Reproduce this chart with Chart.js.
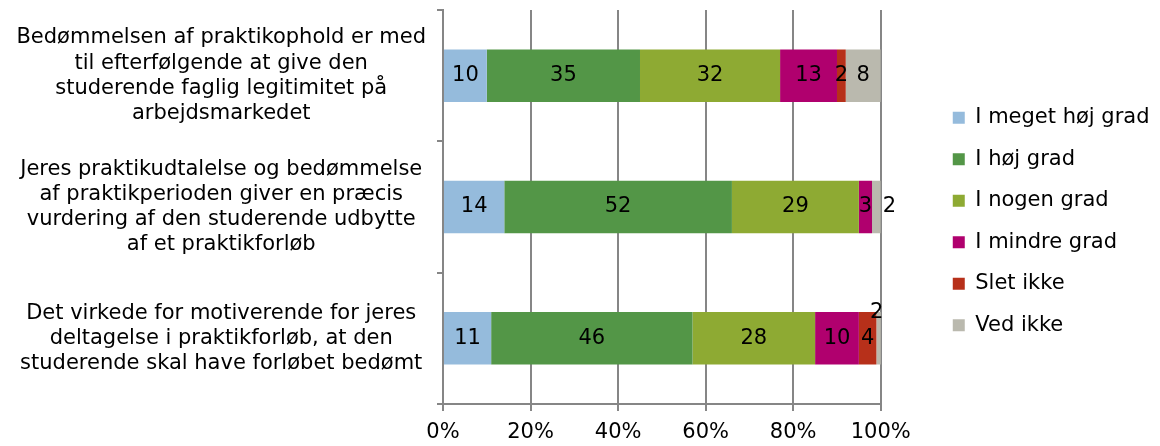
<!DOCTYPE html>
<html>
<head>
<meta charset="utf-8">
<script src="https://cdn.jsdelivr.net/npm/chart.js@4"></script>
<style>
  html, body { margin: 0; padding: 0; background: #fff; }
  #wrap { width: 1160px; height: 446px; }
</style>
</head>
<body>
<div id="wrap"><canvas id="chart" width="1160" height="446"></canvas></div>
<script>
// categories (one per bar)
const categories = [
    ["Bedømmelsen af praktikophold er med", "til efterfølgende at give den", "studerende faglig legitimitet på", "arbejdsmarkedet"],
    ["Jeres praktikudtalelse og bedømmelse", "af praktikperioden giver en præcis", "vurdering af den studerende udbytte", "af et praktikforløb"],
    ["Det virkede for motiverende for jeres", "deltagelse i praktikforløb, at den", "studerende skal have forløbet bedømt"]
];

// answer series, percent
const meget = [10, 14, 11];
const hoej = [35, 52, 46];
const nogen = [32, 29, 28];
const mindre = [13, 3, 10];
const sletIkke = [2, 0, 4];
const vedIkke = [8, 2, 2];

const seriesNames = ["I meget høj grad", "I høj grad", "I nogen grad", "I mindre grad", "Slet ikke", "Ved ikke"];
const seriesColors = ["#95bbdc", "#539647", "#8eaa33", "#b0006e", "#b7301a", "#bab9ae"];

const xTicks = [0, 20, 40, 60, 80, 100];

// labels that Excel moved out of tiny segments ("dataset-category": where)
const outsideLabels = { "5-1": "right", "5-2": "above" };

const FONT = "'DejaVu Sans', Verdana, sans-serif";
const FS = 21;
const LEGEND_PAD = 20.5;
const LEGEND_GAP = 72; // from plot edge to legend squares

const values = [meget, hoej, nogen, mindre, sletIkke, vedIkke];
const datasets = values.map((v, i) => ({
    label: seriesNames[i],
    data: v,
    backgroundColor: seriesColors[i],
    borderWidth: 0,
    barPercentage: 0.8,
    categoryPercentage: 0.5
}));

// draw the numbers on the segments
const segmentLabels = {
    id: 'segmentLabels',
    afterDatasetsDraw(chart) {
        const ctx = chart.ctx;
        const area = chart.chartArea;
        ctx.save();
        ctx.font = FS + "px " + FONT;
        ctx.fillStyle = "#000";
        ctx.textBaseline = "middle";
        chart.data.datasets.forEach((ds, di) => {
            const meta = chart.getDatasetMeta(di);
            meta.data.forEach((bar, ci) => {
                const val = ds.data[ci];
                if (!val) return;
                const x1 = Math.max(bar.base, area.left);
                const x2 = Math.min(bar.x, area.right);
                let x = (x1 + x2) / 2;
                let y = bar.y;
                ctx.textAlign = "center";
                const where = outsideLabels[di + "-" + ci];
                if (where === "right") {
                    ctx.textAlign = "left";
                    x = x2 + 2;
                } else if (where === "above") {
                    y = bar.y - bar.height / 2;
                    x = x - 2;
                }
                ctx.fillText(String(val), x, y);
            });
        });
        ctx.restore();
    }
};

// push the legend away from the plot like in the original
const moveLegend = {
    id: 'moveLegend',
    beforeDraw(chart) {
        const lg = chart.legend;
        const w = lg.right - lg.left;
        lg.left = chart.chartArea.right + LEGEND_GAP - LEGEND_PAD;
        lg.right = lg.left + w;
        lg.top -= 6;
        lg.bottom -= 6;
    }
};

new Chart(document.getElementById('chart'), {
    type: 'bar',
    data: { labels: categories, datasets: datasets },
    options: {
        indexAxis: 'y',
        responsive: false,
        animation: false,
        layout: { padding: { top: 10, right: 52, left: 0, bottom: 1 } },
        scales: {
            x: {
                stacked: true,
                min: 0,
                max: 100,
                afterBuildTicks(scale) {
                    scale.ticks = xTicks.map(v => ({ value: v }));
                },
                afterFit(scale) { scale.height = 41; },
                ticks: {
                    callback: v => v + "%",
                    font: { family: FONT, size: FS, lineHeight: 1.2 },
                    color: "#000",
                    padding: 9,
                    maxRotation: 0
                },
                grid: { color: "#868686", lineWidth: 2, tickLength: 7 },
                border: { color: "#868686", width: 2 }
            },
            y: {
                stacked: true,
                afterFit(scale) {
                    scale.width = 443;
                    scale.paddingTop = 0;
                    scale.paddingBottom = 0;
                },
                ticks: {
                    crossAlign: 'center',
                    font: { family: FONT, size: FS, lineHeight: 1.2 },
                    color: "#000",
                    padding: 11
                },
                grid: { offset: true, drawOnChartArea: false, color: "#868686", lineWidth: 2, tickLength: 6 },
                border: { color: "#868686", width: 2 }
            }
        },
        plugins: {
            legend: {
                position: 'right',
                labels: {
                    boxWidth: 12,
                    boxHeight: 12,
                    padding: LEGEND_PAD,
                    color: "#000",
                    font: { family: FONT, size: FS }
                }
            },
            tooltip: { enabled: false }
        }
    },
    plugins: [segmentLabels, moveLegend]
});
</script>
</body>
</html>
